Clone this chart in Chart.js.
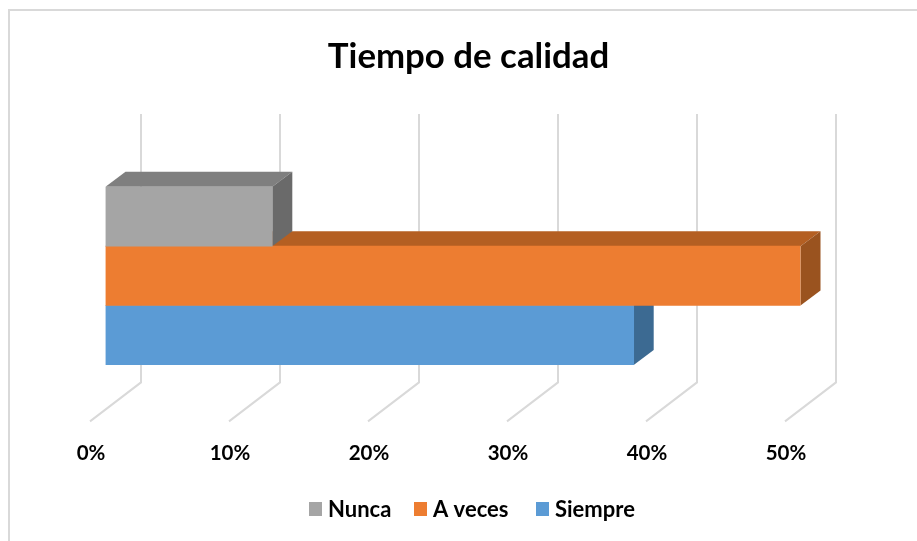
<!DOCTYPE html>
<html>
<head>
<meta charset="utf-8">
<title>Tiempo de calidad</title>
<script src="https://cdn.jsdelivr.net/npm/chart.js@4/dist/chart.umd.min.js"></script>
<style>
    html, body { margin: 0; padding: 0; background: #fff; width: 917px; height: 541px; overflow: hidden; }
    canvas { display: block; }
</style>
</head>
<body>
<canvas id="chart" width="917" height="541"></canvas>
<script>
    // Data
    const categories = ['Tiempo de calidad'];
    const seriesNames = ['Nunca', 'A veces', 'Siempre'];
    const seriesValues = [12, 50, 38];
    const tickValues = [0, 10, 20, 30, 40, 50];

    const frontColors = ['#A5A5A5', '#ED7D31', '#5B9BD5'];
    const topColors = ['#7F7F7F', '#B45F22', '#43729C'];
    const sideColors = ['#6A6A6A', '#9A531F', '#3C6A92'];
    const legendBoxX = [309, 414, 536];

    // Fake 3D: bars and walls are pushed back by these offsets
    const barDepth = { x: 20, y: -15 };
    const wallBack = { x: 35.5, y: 17.5 };
    const wallFront = { x: -15.5, y: 56.5 };
    const wallTop = 114;

    function face(ctx, color, pts) {
        ctx.fillStyle = color;
        ctx.beginPath();
        pts.forEach((p, i) => i ? ctx.lineTo(p[0], p[1]) : ctx.moveTo(p[0], p[1]));
        ctx.closePath();
        ctx.fill();
    }

    const frame3d = {
        id: 'frame3d',
        afterLayout(chart) {
            // Title is centred on the original (cropped) chart frame, not the plot
            chart.titleBlock.left += 15.5;
            chart.titleBlock.right += 15.5;
        },
        beforeDraw(chart) {
            const ctx = chart.ctx;
            ctx.save();
            ctx.strokeStyle = '#D9D9D9';
            ctx.lineWidth = 2;
            ctx.strokeRect(9, 10, 1000, 1000);
            ctx.restore();
        },
        beforeDatasetsDraw(chart) {
            const ctx = chart.ctx;
            const xScale = chart.scales.x;
            const bottom = chart.chartArea.bottom;

            // Floor and back wall grid lines
            ctx.save();
            ctx.strokeStyle = '#D9D9D9';
            ctx.lineWidth = 2;
            tickValues.forEach(v => {
                const px = xScale.getPixelForValue(v);
                ctx.beginPath();
                ctx.moveTo(px + wallBack.x, wallTop);
                ctx.lineTo(px + wallBack.x, bottom + wallBack.y);
                ctx.lineTo(px + wallFront.x, bottom + wallFront.y);
                ctx.stroke();
            });

            // Top and side faces, back to front so the front bars cover them
            for (let i = seriesValues.length - 1; i >= 0; i--) {
                const bar = chart.getDatasetMeta(i).data[0];
                const x0 = bar.base;
                const x1 = bar.x;
                const y0 = bar.y - bar.height / 2;
                const y1 = bar.y + bar.height / 2;
                const dx = barDepth.x;
                const dy = barDepth.y;
                face(ctx, topColors[i], [[x0, y0], [x0 + dx, y0 + dy], [x1 + dx, y0 + dy], [x1, y0]]);
                face(ctx, sideColors[i], [[x1, y0], [x1 + dx, y0 + dy], [x1 + dx, y1 + dy], [x1, y1]]);
            }
            ctx.restore();
        },
        afterDraw(chart) {
            // Legend sits off-centre in the picture, so it is placed by hand
            const ctx = chart.ctx;
            ctx.save();
            ctx.font = 'bold 22px Lato';
            ctx.textBaseline = 'middle';
            seriesNames.forEach((name, i) => {
                ctx.fillStyle = frontColors[i];
                ctx.fillRect(legendBoxX[i], 502, 13, 14);
                ctx.fillStyle = '#000';
                ctx.fillText(name, legendBoxX[i] + 19, 510);
            });
            ctx.restore();
        }
    };

    const chart = new Chart(document.getElementById('chart').getContext('2d'), {
        type: 'bar',
        data: {
            labels: categories,
            datasets: seriesNames.map((name, i) => ({
                label: name,
                data: [seriesValues[i]],
                backgroundColor: frontColors[i],
                borderWidth: 0,
                categoryPercentage: 1,
                barPercentage: 1
            }))
        },
        options: {
            indexAxis: 'y',
            responsive: false,
            animation: false,
            layout: { padding: { left: 105.5, right: 116.5, top: 0, bottom: 6.5 } },
            scales: {
                x: {
                    min: 0,
                    max: 50,
                    grid: { display: false },
                    border: { display: false },
                    afterBuildTicks(axis) { axis.ticks = tickValues.map(v => ({ value: v })); },
                    ticks: {
                        callback: v => v + '%',
                        labelOffset: -14.5,
                        padding: 68.5,
                        maxRotation: 0,
                        autoSkip: false,
                        color: '#000',
                        font: { family: 'Lato', weight: 'bold', size: 20.5 }
                    }
                },
                y: { display: false }
            },
            plugins: {
                title: {
                    display: true,
                    text: 'Tiempo de calidad',
                    color: '#000',
                    font: { family: 'Lato', weight: 'bold', size: 34.8 },
                    padding: { top: 36, bottom: 109 }
                },
                legend: { display: false },
                tooltip: { enabled: false }
            }
        },
        plugins: [frame3d]
    });
</script>
</body>
</html>
